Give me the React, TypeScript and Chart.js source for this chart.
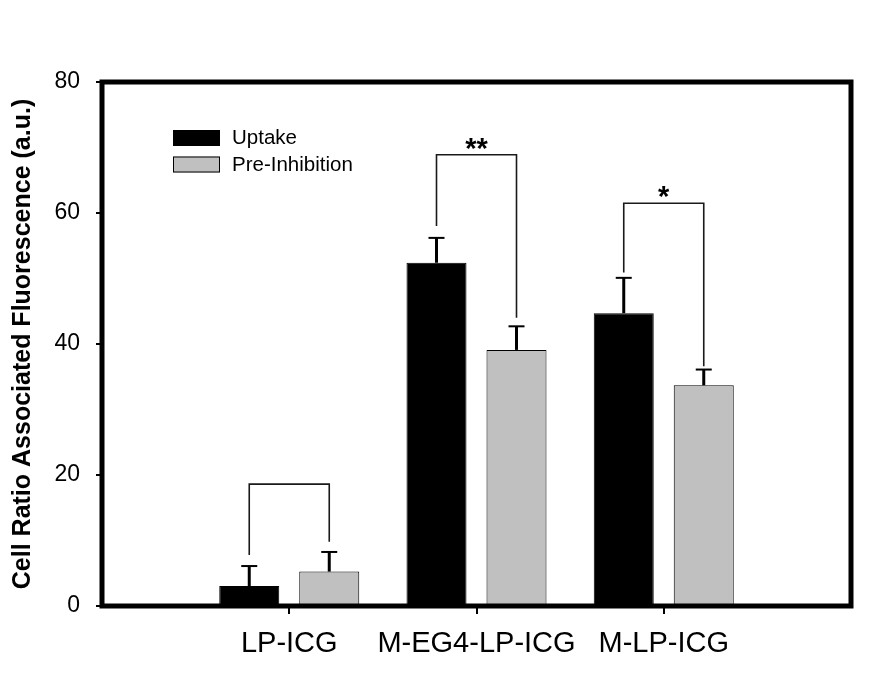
import React, { useEffect, useRef } from "react";
import { Chart, registerables } from "chart.js";

Chart.register(...registerables);

const categories = ["", "LP-ICG", "M-EG4-LP-ICG", "M-LP-ICG", ""];
const seriesNames = ["Uptake", "Pre-Inhibition"];
const uptakeValues = [null, 3.05, 52.4, 44.7, null];
const preInhibitionValues = [null, 5.25, 39.1, 33.7, null];
const uptakeErrorTop = [null, 6.1, 56.2, 50.1, null];
const preInhibitionErrorTop = [null, 8.25, 42.7, 36.1, null];
// significance brackets: category index, top, left end, right end, label
const bracketCategory = [1, 2, 3];
const bracketTop = [18.6, 68.9, 61.5];
const bracketLeftEnd = [7.8, 58.0, 50.9];
const bracketRightEnd = [9.8, 44.0, 36.6];
const bracketLabels = ["", "**", "*"];
const yTicks = [0, 20, 40, 60, 80];

const FONT = "'Liberation Sans', Arial, Helvetica, sans-serif";

const errorBars = {
  id: "errorBars",
  afterDatasetsDraw(chart: any) {
    const ctx = chart.ctx;
    const y = chart.scales.y;
    const errs = [uptakeErrorTop, preInhibitionErrorTop];
    ctx.save();
    ctx.strokeStyle = "#000";
    chart.data.datasets.forEach((_: any, di: number) => {
      const meta = chart.getDatasetMeta(di);
      meta.data.forEach((bar: any, i: number) => {
        const e = errs[di][i];
        if (e == null) return;
        const yTop = y.getPixelForValue(e);
        ctx.lineWidth = 3;
        ctx.beginPath();
        ctx.moveTo(bar.x, bar.y);
        ctx.lineTo(bar.x, yTop);
        ctx.stroke();
        ctx.lineWidth = 2;
        ctx.beginPath();
        ctx.moveTo(bar.x - 8, yTop);
        ctx.lineTo(bar.x + 8, yTop);
        ctx.stroke();
      });
    });
    // brackets
    const m0 = chart.getDatasetMeta(0);
    const m1 = chart.getDatasetMeta(1);
    ctx.strokeStyle = "#1a1a1a";
    ctx.lineWidth = 1.6;
    bracketCategory.forEach((ci, k) => {
      const xl = m0.data[ci].x;
      const xr = m1.data[ci].x;
      const yt = y.getPixelForValue(bracketTop[k]);
      const yl = y.getPixelForValue(bracketLeftEnd[k]);
      const yr = y.getPixelForValue(bracketRightEnd[k]);
      ctx.beginPath();
      ctx.moveTo(xl, yl);
      ctx.lineTo(xl, yt);
      ctx.lineTo(xr, yt);
      ctx.lineTo(xr, yr);
      ctx.stroke();
      if (bracketLabels[k]) {
        ctx.fillStyle = "#000";
        ctx.font = `bold 29px ${FONT}`;
        ctx.textAlign = "center";
        ctx.textBaseline = "alphabetic";
        ctx.fillText(bracketLabels[k], (xl + xr) / 2, yt + 3);
      }
    });
    // frame
    const a = chart.chartArea;
    ctx.strokeStyle = "#000";
    ctx.lineWidth = 5;
    ctx.strokeRect(a.left, a.top, a.right - a.left, a.bottom - a.top);
    // legend
    const lx = a.left + 71;
    const boxW = 47;
    const boxH = 16;
    const rows = [a.top + 48, a.top + 74.5];
    const fills = ["#000000", "#c0c0c0"];
    ctx.font = `20.5px ${FONT}`;
    ctx.textAlign = "left";
    ctx.textBaseline = "middle";
    rows.forEach((ry, r) => {
      ctx.fillStyle = fills[r];
      ctx.fillRect(lx, ry, boxW, boxH);
      ctx.lineWidth = 1;
      ctx.strokeStyle = "#000";
      ctx.strokeRect(lx + 0.5, ry + 0.5, boxW - 1, boxH - 1);
      ctx.fillStyle = "#000";
      ctx.fillText(seriesNames[r], lx + 59, ry + boxH / 2 + 0.5);
    });
    ctx.restore();
  },
};

export default function App() {
  const ref = useRef<HTMLCanvasElement | null>(null);
  useEffect(() => {
    document.body.style.margin = "0";
    if (!ref.current) return;
    const chart = new Chart(ref.current, {
      type: "bar",
      data: {
        labels: categories,
        datasets: [
          {
            label: seriesNames[0],
            data: uptakeValues as any,
            backgroundColor: "#000000",
            borderColor: "#000000",
            borderWidth: 1,
          },
          {
            label: seriesNames[1],
            data: preInhibitionValues as any,
            backgroundColor: "#c0c0c0",
            borderColor: "#000000",
            borderWidth: 1,
          },
        ],
      },
      options: {
        responsive: false,
        animation: false,
        devicePixelRatio: 1,
        layout: { padding: { top: 82, right: 45, left: 0, bottom: 0 } },
        datasets: {
          bar: { barPercentage: 0.75, categoryPercentage: 0.8545 },
        },
        plugins: { legend: { display: false }, tooltip: { enabled: false } },
        scales: {
          x: {
            offset: false,
            border: { display: false },
            grid: {
              offset: false,
              drawOnChartArea: false,
              tickLength: 8,
              lineWidth: 2,
              color: (c: any) =>
                c.index === 0 || c.index === categories.length - 1 ? "rgba(0,0,0,0)" : "#000",
            },
            ticks: {
              color: "#000",
              font: { family: FONT, size: 29 },
              padding: 13,
              maxRotation: 0,
              autoSkip: false,
            },
            afterFit: (s: any) => {
              s.height = 81;
            },
          },
          y: {
            min: 0,
            max: 80,
            border: { display: false },
            grid: { drawOnChartArea: false, tickLength: 6, lineWidth: 2, color: "#000" },
            afterBuildTicks: (s: any) => {
              s.ticks = yTicks.map((v) => ({ value: v }));
            },
            ticks: {
              color: "#000",
              font: { family: FONT, size: 23 },
              padding: 16,
            },
            title: {
              display: true,
              text: "Cell Ratio Associated Fluorescence (a.u.)",
              color: "#000",
              font: { family: FONT, size: 25, weight: "bold" },
              padding: { top: 8, bottom: 0 },
            },
            afterFit: (s: any) => {
              s.width = 102;
            },
          },
        },
      },
      plugins: [errorBars],
    });
    return () => chart.destroy();
  }, []);
  return (
    <div style={{ position: "absolute", left: 0, top: 0, width: 896, height: 687, background: "#fff" }}>
      <canvas ref={ref} width={896} height={687} style={{ width: 896, height: 687, display: "block" }} />
    </div>
  );
}
